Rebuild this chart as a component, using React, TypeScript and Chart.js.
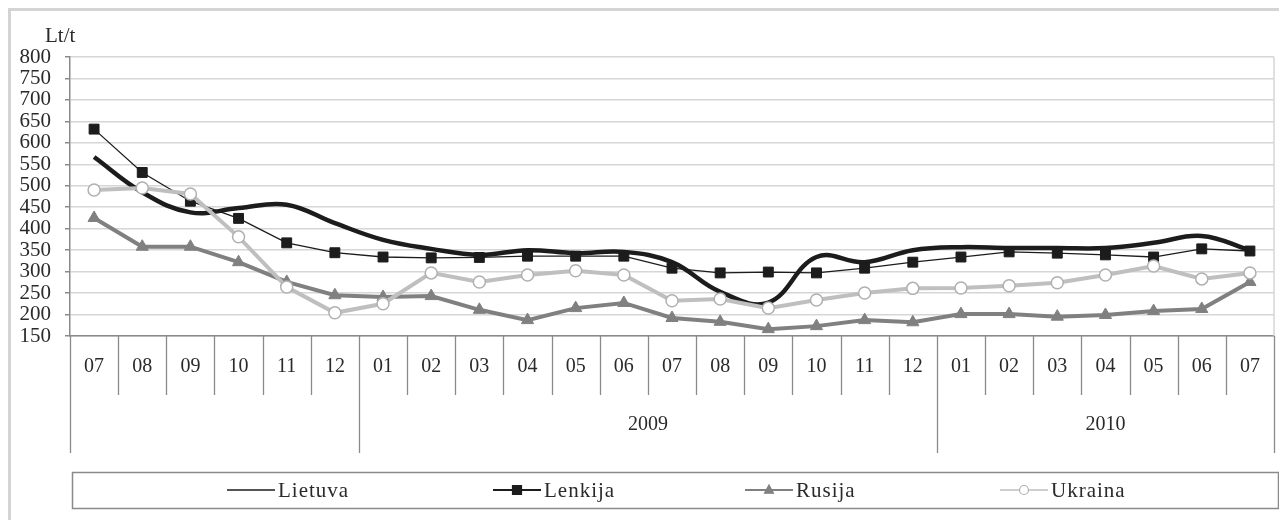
import React, { useEffect, useRef } from 'react';
import { Chart, registerables } from 'chart.js';

Chart.register(...registerables);

// ---- data ----
const months = ['07', '08', '09', '10', '11', '12', '01', '02', '03', '04', '05', '06', '07', '08', '09', '10', '11', '12', '01', '02', '03', '04', '05', '06', '07'];
const yearLabels = ['', '2009', '2010'];
const yearSpans = [6, 12, 7];
const unitLabel = 'Lt/t';
const yMin = 150;
const yMax = 800;
const yStep = 50;

const seriesNames = ['Lietuva', 'Lenkija', 'Rusija', 'Ukraina'];
const lietuva = [567, 485, 438, 448, 456, 413, 374, 353, 339, 350, 343, 346, 322, 253, 228, 334, 322, 350, 357, 355, 355, 355, 367, 383, 350];
const lenkija = [632, 531, 464, 424, 367, 344, 334, 332, 333, 336, 336, 336, 308, 297, 299, 297, 308, 322, 334, 346, 343, 339, 334, 353, 348];
const rusija = [425, 358, 358, 322, 276, 245, 241, 243, 211, 187, 215, 227, 192, 183, 166, 173, 187, 182, 201, 201, 195, 199, 208, 213, 276];
const ukraina = [490, 495, 481, 381, 264, 204, 225, 297, 276, 292, 302, 292, 232, 236, 215, 234, 250, 261, 262, 267, 274, 292, 313, 283, 297];

const FONT = '"Liberation Serif", "Times New Roman", serif';
const TEXT = '#2a2a2a';
const SEP = '#8a8a8a';
const GRID = '#d6d6d6';

const legendX = [216, 482, 734, 989];

function drawMarker(ctx: CanvasRenderingContext2D, kind: string, x: number, y: number, r: number, fill: string, stroke: string) {
  ctx.save();
  ctx.fillStyle = fill;
  ctx.strokeStyle = stroke;
  ctx.lineWidth = 1.2;
  ctx.beginPath();
  if (kind === 'rect') {
    ctx.rect(x - r, y - r, 2 * r, 2 * r);
  } else if (kind === 'triangle') {
    ctx.moveTo(x, y - r * 1.1);
    ctx.lineTo(x + r, y + r * 0.7);
    ctx.lineTo(x - r, y + r * 0.7);
    ctx.closePath();
  } else if (kind === 'circle') {
    ctx.arc(x, y, r, 0, Math.PI * 2);
  }
  if (kind !== 'none') {
    ctx.fill();
    ctx.stroke();
  }
  ctx.restore();
}

const tablePlugin = {
  id: 'tableAxis',
  beforeDatasetsDraw(chart: any) {
    const { ctx, chartArea: ca } = chart;
    ctx.save();
    ctx.strokeStyle = GRID;
    ctx.lineWidth = 1.5;
    ctx.beginPath();
    ctx.moveTo(ca.right, ca.top);
    ctx.lineTo(ca.right, ca.bottom);
    ctx.stroke();
    ctx.restore();
  },
  afterDraw(chart: any) {
    const { ctx, chartArea: ca } = chart;
    const x = chart.scales.x;
    const half = (x.getPixelForValue(1) - x.getPixelForValue(0)) / 2;
    const monthBottom = ca.bottom + 59;
    const yearBottom = ca.bottom + 117;
    ctx.save();
    const bounds: number[] = [0];
    let acc = 0;
    yearSpans.forEach((s) => { acc += s; bounds.push(acc); });
    ctx.strokeStyle = SEP;
    ctx.lineWidth = 1.3;
    for (let i = 0; i <= months.length; i++) {
      const px = Math.round(i < months.length ? x.getPixelForValue(i) - half : x.getPixelForValue(i - 1) + half) + 0.5;
      const isGroup = bounds.indexOf(i) >= 0;
      ctx.beginPath();
      ctx.moveTo(px, ca.bottom);
      ctx.lineTo(px, isGroup ? yearBottom : monthBottom);
      ctx.stroke();
    }
    ctx.fillStyle = TEXT;
    ctx.font = '20px ' + FONT;
    ctx.textAlign = 'center';
    ctx.textBaseline = 'middle';
    months.forEach((m, i) => {
      ctx.fillText(m, x.getPixelForValue(i), ca.bottom + 31);
    });
    yearLabels.forEach((lab, g) => {
      if (!lab) return;
      const a = x.getPixelForValue(bounds[g]);
      const b = x.getPixelForValue(bounds[g + 1] - 1);
      ctx.fillText(lab, (a + b) / 2, ca.bottom + 89);
    });
    ctx.textAlign = 'left';
    ctx.font = '21px ' + FONT;
    ctx.fillText(unitLabel, 34, 25);
    // legend
    const boxTop = ca.bottom + 136;
    ctx.strokeStyle = SEP;
    ctx.lineWidth = 1.5;
    ctx.strokeRect(ca.left + 2.5, boxTop + 0.5, ca.right + 4 - ca.left - 2, 36);
    const cy = boxTop + 18;
    (ctx as any).letterSpacing = '1px';
    chart.data.datasets.forEach((ds: any, i: number) => {
      const lx = legendX[i];
      ctx.save();
      ctx.strokeStyle = ds.borderColor;
      ctx.lineWidth = i === 1 || i === 2 ? 2 : 1.5;
      ctx.beginPath();
      ctx.moveTo(lx, cy);
      ctx.lineTo(lx + 48, cy);
      ctx.stroke();
      ctx.restore();
      const kind = ds.pointRadius ? ds.pointStyle : 'none';
      drawMarker(ctx, kind, lx + 24, cy, kind === 'circle' ? 4.5 : 4.5, ds.pointBackgroundColor || '#000', ds.pointBorderColor || '#000');
      ctx.fillStyle = TEXT;
      ctx.textAlign = 'left';
      ctx.fillText(ds.label, lx + 51, cy + 1);
    });
    (ctx as any).letterSpacing = '0px';
    ctx.restore();
  },
};

export default function App() {
  const ref = useRef<HTMLCanvasElement | null>(null);
  useEffect(() => {
    if (!ref.current) return;
    const chart = new Chart(ref.current, {
      type: 'line',
      data: {
        labels: months,
        datasets: [
          {
            label: seriesNames[0], data: lietuva, borderColor: '#1c1c1c', borderWidth: 4.5,
            pointRadius: 0, tension: 0.4, fill: false, order: 2,
          },
          {
            label: seriesNames[1], data: lenkija, borderColor: '#1c1c1c', borderWidth: 1.3,
            pointStyle: 'rect', pointRadius: 7, pointBackgroundColor: '#1c1c1c', pointBorderColor: '#1c1c1c',
            pointBorderWidth: 1, tension: 0, fill: false, order: 1,
          },
          {
            label: seriesNames[2], data: rusija, borderColor: '#808080', borderWidth: 4,
            pointStyle: 'triangle', pointRadius: 7, pointBackgroundColor: '#808080', pointBorderColor: '#808080',
            pointBorderWidth: 1, tension: 0, fill: false, order: 3,
          },
          {
            label: seriesNames[3], data: ukraina, borderColor: '#bfbfbf', borderWidth: 4,
            pointStyle: 'circle', pointRadius: 6, pointBackgroundColor: '#ffffff', pointBorderColor: '#b0b0b0',
            pointBorderWidth: 1.5, tension: 0, fill: false, order: 0,
          },
        ] as any,
      },
      options: {
        responsive: false,
        animation: false,
        layout: { padding: { top: 46, right: 11, left: 0, bottom: 0 } },
        plugins: { legend: { display: false }, tooltip: { enabled: false } },
        scales: {
          x: {
            type: 'category',
            offset: true,
            grid: { display: false },
            border: { display: true, color: SEP, width: 1.5 },
            ticks: { display: false },
            afterFit: (s: any) => { s.height = 184; },
          },
          y: {
            min: yMin,
            max: yMax,
            ticks: {
              stepSize: yStep, autoSkip: false, padding: 14, color: TEXT,
              font: { family: FONT, size: 21, lineHeight: 1 },
            },
            grid: { color: GRID, lineWidth: 1.5, tickLength: 5, tickColor: SEP },
            border: { display: true, color: SEP, width: 1.5 },
            afterFit: (s: any) => { s.width = 59; },
          },
        },
      } as any,
      plugins: [tablePlugin],
    });
    return () => chart.destroy();
  }, []);
  return (
    <div
      style={{
        margin: '-2px 0 0 -2px',
        borderTop: '5px solid #d4d4d4',
        borderLeft: '5px solid #d4d4d4',
        borderRight: '2px solid #e2e2e2',
        width: 1274,
        height: 509,
        background: '#fff',
      }}
    >
      <canvas ref={ref} width={1274} height={509} style={{ display: 'block' }} />
    </div>
  );
}
